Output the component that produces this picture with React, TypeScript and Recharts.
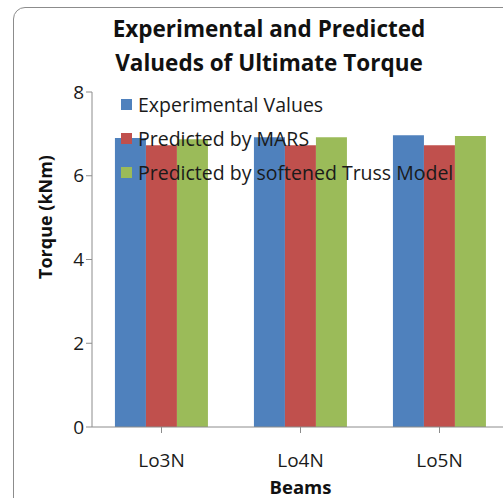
import React from 'react';
import { BarChart, Bar, XAxis, YAxis } from 'recharts';

const beams = ['Lo3N', 'Lo4N', 'Lo5N'];
const experimental = [6.9, 6.92, 6.97];
const mars = [6.73, 6.73, 6.73];
const truss = [6.87, 6.92, 6.95];
const yTicks = [0, 2, 4, 6, 8];

const series = [
  { key: 'experimental', name: 'Experimental Values', color: '#4F81BD' },
  { key: 'mars', name: 'Predicted by MARS', color: '#C0504D' },
  { key: 'truss', name: 'Predicted by softened Truss Model', color: '#9BBB59' },
];

const data = beams.map((b, i) => ({
  beam: b,
  experimental: experimental[i],
  mars: mars[i],
  truss: truss[i],
}));

const FONT = '"Open Sans", "Liberation Sans", sans-serif';

// axis titles drawn by hand so they sit where Excel put them
const XTitle: React.FC<any> = ({ viewBox }) => {
  const cx = viewBox ? viewBox.x + viewBox.width / 2 : 300;
  return (
    <text x={cx} y={486} textAnchor="middle" dominantBaseline="central" fill="#111" fontSize={18.5} fontWeight={700} fontFamily={FONT}>
      Beams
    </text>
  );
};

const YTitle: React.FC<any> = () => (
  <text x={45} y={217} transform="rotate(-90 45 217)" textAnchor="middle" dominantBaseline="central" fill="#111" fontSize={18} fontWeight={700} fontFamily={FONT}>
    Torque (kNm)
  </text>
);

export default function App() {
  return (
    <div style={{ position: 'absolute', left: 0, top: 0, width: 503, height: 498, overflow: 'hidden', background: '#fff' }}>
      <div style={{ position: 'absolute', left: 13, top: 7, width: 540, height: 540, border: '1.5px solid #8c8c8c', borderRadius: 12 }} />
      <div style={{ position: 'absolute', left: 0, top: 0 }}>
        <BarChart width={520} height={498} data={data} margin={{ top: 92, right: 11, bottom: 0, left: 52 }} barCategoryGap="16.5%" barGap={0}>
          <XAxis
            dataKey="beam"
            tick={{ fill: '#1a1a1a', fontSize: 19, fontFamily: FONT, dy: 19 }}
            tickLine={{ stroke: '#8c8c8c' }}
            axisLine={{ stroke: '#8c8c8c' }}
            tickSize={6}
            height={71}
            label={<XTitle />}
          />
          <YAxis
            domain={[0, 8]}
            ticks={yTicks}
            tick={{ fill: '#1a1a1a', fontSize: 19, fontFamily: FONT }}
            tickLine={{ stroke: '#8c8c8c' }}
            axisLine={{ stroke: '#8c8c8c' }}
            tickSize={6}
            width={40}
            label={<YTitle />}
          />
          {series.map(s => (
            <Bar key={s.key} dataKey={s.key} name={s.name} fill={s.color} isAnimationActive={false} />
          ))}
        </BarChart>
      </div>
      <div style={{ position: 'absolute', left: 121, top: 87, fontFamily: FONT, fontSize: 19.5, color: '#1a1a1a' }}>
        {series.map(s => (
          <div key={s.key} style={{ display: 'flex', alignItems: 'center', height: 34 }}>
            <span style={{ width: 11, height: 11, background: s.color, marginRight: 6, display: 'inline-block' }} />
            <span>{s.name}</span>
          </div>
        ))}
      </div>
      <div style={{ position: 'absolute', left: 69, width: 400, top: 12, textAlign: 'center', fontFamily: FONT, fontWeight: 700, fontSize: 22.5, lineHeight: '34px', color: '#111' }}>
        <div>Experimental and Predicted</div>
        <div>Valueds of Ultimate Torque</div>
      </div>
    </div>
  );
}
